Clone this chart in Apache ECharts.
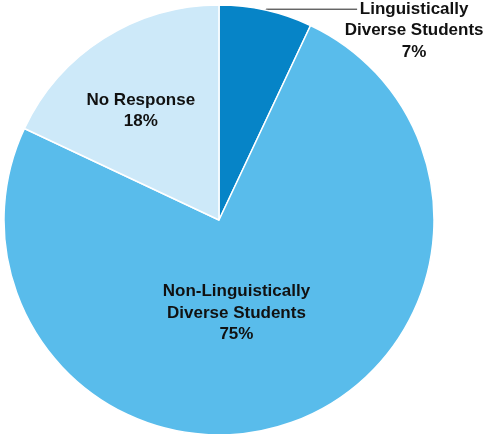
<!DOCTYPE html>
<html>
<head>
<meta charset="utf-8">
<script src="https://cdn.jsdelivr.net/npm/echarts@6/dist/echarts.min.js"></script>
<style>
  html, body { margin: 0; padding: 0; background: #ffffff; }
  #chart { width: 488px; height: 434px; }
</style>
</head>
<body>
<div id="chart"></div>
<script>
// Share of students by language background
const categories = ['Linguistically\nDiverse Students', 'Non-Linguistically\nDiverse Students', 'No Response'];
const shares = [7, 75, 18];
const sliceColors = ['#0684c7', '#59bceb', '#cde9f9'];
// Nudges applied to the default inside-label positions (null = outside label)
const labelShift = [null, [-20, -11], [-19, -16]];

const chart = echarts.init(document.getElementById('chart'), null, { renderer: 'canvas' });

const textStyle = {
  fontFamily: '"Liberation Sans", Arial, Helvetica, sans-serif',
  fontWeight: 'bold',
  fontSize: 17,
  lineHeight: 21.5,
  color: '#111111'
};

const data = categories.map(function (name, i) {
  const item = {
    name: name,
    value: shares[i],
    itemStyle: { color: sliceColors[i] }
  };
  if (i === 0) {
    // Outside label with a horizontal leader line; first text line sits on the line
    item.label = {
      show: true,
      position: 'outside',
      width: 150,
      padding: [43, 0, 0, 0],
      distanceToLabelLine: -18,
      formatter: '{c|{b}\n' + shares[i] + '%}',
      rich: { c: Object.assign({ align: 'center' }, textStyle) }
    };
    item.labelLine = {
      show: true,
      length: 1,
      length2: 91,
      lineStyle: { color: '#222222', width: 1 }
    };
  } else {
    item.label = {
      show: true,
      position: 'inside',
      formatter: '{b}\n' + shares[i] + '%',
      align: 'center'
    };
    item.labelLine = { show: false };
  }
  return item;
});

chart.setOption({
  animation: false,
  series: [{
    type: 'pie',
    center: [219, 220],
    radius: [0, 215],
    startAngle: 90,
    clockwise: true,
    avoidLabelOverlap: false,
    itemStyle: { borderColor: '#ffffff', borderWidth: 1.5 },
    label: Object.assign({}, textStyle),
    emphasis: { disabled: true },
    labelLayout: function (p) {
      const shift = labelShift[p.dataIndex];
      if (!shift) return {};
      return {
        x: p.labelRect.x + p.labelRect.width / 2 + shift[0],
        y: p.labelRect.y + p.labelRect.height / 2 + shift[1]
      };
    },
    data: data
  }]
});
</script>
</body>
</html>
